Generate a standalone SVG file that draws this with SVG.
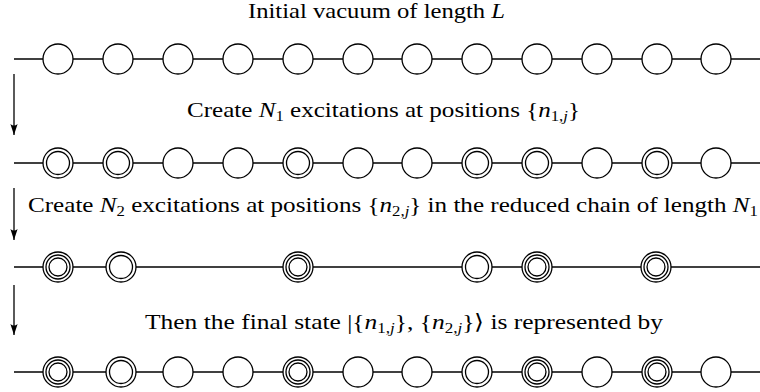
<svg xmlns="http://www.w3.org/2000/svg" xmlns:xlink="http://www.w3.org/1999/xlink" width="760" height="392" viewBox="0 0 760 392">
<style>
.c{fill:#fff;stroke:#000;stroke-width:1.3}
.ln{stroke:#000;stroke-width:1.3;fill:none}
text{font-family:"Liberation Serif","Times New Roman",serif;font-size:21px;fill:#000}
.m{font-style:italic}
.sb{font-size:14px}
</style>
<defs>
<g id="s"><circle class="c" r="15"/></g>
<g id="d"><circle class="c" r="15"/><circle class="c" r="11.5"/></g>
<g id="t"><circle class="c" r="15"/><circle class="c" r="12"/><circle class="c" r="9"/></g>
<marker id="ah" viewBox="-12 -5 13 10" refX="0" refY="0" markerWidth="13" markerHeight="10" markerUnits="userSpaceOnUse" orient="auto">
<path d="M0,0 L-11,-3.6 Q-8,0 -11,3.6 Z" fill="#000"/>
</marker>
</defs>

<g id="labels">
<text id="label1" x="248" y="18" textLength="257" lengthAdjust="spacingAndGlyphs">Initial vacuum of length <tspan class="m">L</tspan></text>
<text id="label2" x="187" y="117" textLength="393" lengthAdjust="spacingAndGlyphs">Create <tspan class="m">N</tspan><tspan class="sb" dy="4">1</tspan><tspan dy="-4"> excitations at positions {</tspan><tspan class="m">n</tspan><tspan class="sb" dy="4">1,</tspan><tspan class="sb m">j</tspan><tspan dy="-4">}</tspan></text>
<text id="label3" x="28" y="212" textLength="730" lengthAdjust="spacingAndGlyphs">Create <tspan class="m">N</tspan><tspan class="sb" dy="4">2</tspan><tspan dy="-4"> excitations at positions {</tspan><tspan class="m">n</tspan><tspan class="sb" dy="4">2,</tspan><tspan class="sb m">j</tspan><tspan dy="-4">} in the reduced chain of length </tspan><tspan class="m">N</tspan><tspan class="sb" dy="4">1</tspan></text>
<text id="label4" x="145" y="329" textLength="518" lengthAdjust="spacingAndGlyphs">Then the final state |{<tspan class="m">n</tspan><tspan class="sb" dy="4">1,</tspan><tspan class="sb m">j</tspan><tspan dy="-4">}, {</tspan><tspan class="m">n</tspan><tspan class="sb" dy="4">2,</tspan><tspan class="sb m">j</tspan><tspan dy="-4">}⟩  is represented by</tspan></text>
</g>

<g id="connectors">
<line class="ln" x1="14" y1="59" x2="760" y2="59"/>
<line class="ln" x1="14" y1="163" x2="760" y2="163"/>
<line class="ln" x1="14" y1="267" x2="760" y2="267"/>
<line class="ln" x1="14" y1="372" x2="760" y2="372"/>
<line class="ln" x1="14" y1="74" x2="14" y2="135" marker-end="url(#ah)"/>
<line class="ln" x1="14" y1="188" x2="14" y2="240" marker-end="url(#ah)"/>
<line class="ln" x1="14" y1="285" x2="14" y2="335" marker-end="url(#ah)"/>
</g>

<g id="row1">
<use id="r1n0" xlink:href="#s" x="58" y="59"/>
<use id="r1n1" xlink:href="#s" x="118" y="59"/>
<use id="r1n2" xlink:href="#s" x="178" y="59"/>
<use id="r1n3" xlink:href="#s" x="238" y="59"/>
<use id="r1n4" xlink:href="#s" x="298" y="59"/>
<use id="r1n5" xlink:href="#s" x="358" y="59"/>
<use id="r1n6" xlink:href="#s" x="417" y="59"/>
<use id="r1n7" xlink:href="#s" x="477" y="59"/>
<use id="r1n8" xlink:href="#s" x="537" y="59"/>
<use id="r1n9" xlink:href="#s" x="597" y="59"/>
<use id="r1n10" xlink:href="#s" x="657" y="59"/>
<use id="r1n11" xlink:href="#s" x="716" y="59"/>
</g>

<g id="row2">
<use id="r2n0" xlink:href="#d" x="58" y="163"/>
<use id="r2n1" xlink:href="#d" x="118" y="163"/>
<use id="r2n2" xlink:href="#s" x="178" y="163"/>
<use id="r2n3" xlink:href="#s" x="238" y="163"/>
<use id="r2n4" xlink:href="#d" x="298" y="163"/>
<use id="r2n5" xlink:href="#s" x="358" y="163"/>
<use id="r2n6" xlink:href="#s" x="417" y="163"/>
<use id="r2n7" xlink:href="#d" x="477" y="163"/>
<use id="r2n8" xlink:href="#d" x="537" y="163"/>
<use id="r2n9" xlink:href="#s" x="597" y="163"/>
<use id="r2n10" xlink:href="#d" x="657" y="163"/>
<use id="r2n11" xlink:href="#s" x="716" y="163"/>
</g>

<g id="row3">
<use id="r3n0" xlink:href="#t" x="58" y="267"/>
<use id="r3n1" xlink:href="#d" x="121" y="267"/>
<use id="r3n4" xlink:href="#t" x="298" y="267"/>
<use id="r3n7" xlink:href="#d" x="477" y="267"/>
<use id="r3n8" xlink:href="#t" x="537" y="267"/>
<use id="r3n10" xlink:href="#t" x="656" y="267"/>
</g>

<g id="row4">
<use id="r4n0" xlink:href="#t" x="58" y="372"/>
<use id="r4n1" xlink:href="#d" x="121" y="372"/>
<use id="r4n2" xlink:href="#s" x="178" y="372"/>
<use id="r4n3" xlink:href="#s" x="238" y="372"/>
<use id="r4n4" xlink:href="#t" x="298" y="372"/>
<use id="r4n5" xlink:href="#s" x="358" y="372"/>
<use id="r4n6" xlink:href="#s" x="417" y="372"/>
<use id="r4n7" xlink:href="#d" x="477" y="372"/>
<use id="r4n8" xlink:href="#t" x="537" y="372"/>
<use id="r4n9" xlink:href="#s" x="597" y="372"/>
<use id="r4n10" xlink:href="#t" x="657" y="372"/>
<use id="r4n11" xlink:href="#s" x="716" y="372"/>
</g>
</svg>
